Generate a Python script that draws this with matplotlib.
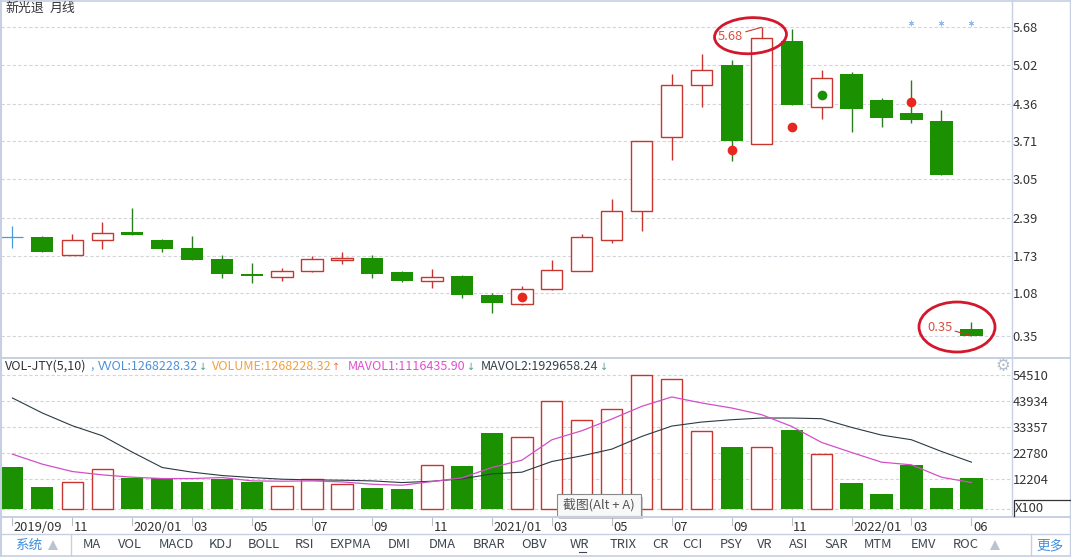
import numpy as np
import matplotlib.pyplot as plt
from matplotlib.patches import Ellipse, Rectangle

plt.rcParams['font.family'] = ['Noto Sans CJK SC', 'DejaVu Sans']

# monthly candles, the first month has no visible body (crosshair sits on it)
opens = [np.nan, 2.05, 1.75, 2.00, 2.14, 2.00, 1.86, 1.67, 1.42, 1.37, 1.46, 1.66, 1.69, 1.45, 1.29, 1.38, 1.05,
         0.90, 1.16, 1.46, 2.01, 2.51, 3.79, 4.68, 5.03, 3.66, 5.44, 4.31, 4.87, 4.42, 4.20, 4.06, 0.46]
closes = [np.nan, 1.80, 2.01, 2.12, 2.09, 1.85, 1.66, 1.42, 1.38, 1.46, 1.67, 1.69, 1.42, 1.30, 1.37, 1.05, 0.92,
          1.15, 1.48, 2.05, 2.50, 3.71, 4.68, 4.95, 3.71, 5.49, 4.34, 4.80, 4.27, 4.12, 4.07, 3.13, 0.35]
highs = [np.nan, 2.07, 2.10, 2.31, 2.55, 2.02, 2.07, 1.74, 1.60, 1.52, 1.72, 1.80, 1.74, 1.47, 1.50, 1.40, 1.08,
         1.20, 1.65, 2.10, 2.71, 3.71, 4.88, 5.21, 5.11, 5.68, 5.65, 4.94, 4.91, 4.45, 4.77, 4.25, 0.58]
lows = [np.nan, 1.80, 1.75, 1.85, 2.09, 1.80, 1.66, 1.35, 1.25, 1.30, 1.44, 1.59, 1.35, 1.27, 1.18, 1.00, 0.74,
        0.88, 1.14, 1.46, 1.95, 2.16, 3.39, 4.31, 3.36, 3.66, 4.34, 4.10, 3.87, 3.96, 4.03, 3.13, 0.35]

volume = [17086, 8950, 10848, 16136, 12746, 12475, 10984, 12340, 10984, 9221, 12340, 10170, 8543, 8136, 17764, 17492,
          30917, 29154, 43800, 36070, 40544, 54375, 52748, 31595, 25222, 25086, 32137, 22238, 10577, 6102, 17900,
          8543, 12611]
mavol1 = [22238, 18170, 15187, 13831, 12882, 12340, 12340, 12746, 11390, 11255, 11390, 10984, 10034, 9628, 11119,
          12611, 16814, 19798, 28069, 31730, 36476, 41629, 45426, 42985, 40951, 38239, 33493, 26984, 22916, 18984,
          17899, 12882, 10712]
mavol2 = [45019, 38917, 33764, 29696, 23052, 16814, 14916, 13560, 12746, 12068, 11797, 11662, 11390, 10712, 11255,
          12204, 14238, 14916, 19255, 21560, 24272, 29425, 33629, 35256, 36205, 36883, 36883, 36612, 33086, 29968,
          28069, 23323, 18984]

price_ticks = [5.68, 5.02, 4.36, 3.71, 3.05, 2.39, 1.73, 1.08, 0.35]
vol_ticks = [54510, 43934, 33357, 22780, 12204]
month_idx = [0, 2, 4, 6, 8, 10, 12, 14, 16, 18, 20, 22, 24, 26, 28, 30, 32]
month_labels = ['2019/09', '11', '2020/01', '03', '05', '07', '09', '11', '2021/01', '03', '05', '07', '09', '11',
                '2022/01', '03', '06']

red_dots_idx = [17, 24, 26, 30]
red_dots_price = [1.01, 3.56, 3.96, 4.39]
green_dot_idx = [27]
green_dot_price = [4.51]
star_idx = [30, 31, 32]
star_price = [5.75, 5.75, 5.75]

tools = ['MA', 'VOL', 'MACD', 'KDJ', 'BOLL', 'RSI', 'EXPMA', 'DMI', 'DMA', 'BRAR', 'OBV', 'WR', 'TRIX', 'CR', 'CCI',
         'PSY', 'VR', 'ASI', 'SAR', 'MTM', 'EMV', 'ROC']
tools_x = [92, 130, 176, 221, 264, 304, 350, 399, 442, 489, 534, 579, 623, 660, 692, 731, 765, 799, 836, 878, 923, 966]

RED = '#c8352e'
GREEN = '#1b9000'
WICK_GREEN = '#2a7d1c'
GRID = '#d2d6da'
FRAME = '#c6d0e2'
TXT = '#333333'
FS = 9.3

W, H = 1071, 557
fig = plt.figure(figsize=(W / 100, H / 100), dpi=100, facecolor='white')


def px_axes(x0, y0, x1, y1):
    return fig.add_axes([x0 / W, 1 - y1 / H, (x1 - x0) / W, (y1 - y0) / H])


x = np.arange(len(volume))
opens, closes, highs, lows = map(np.array, (opens, closes, highs, lows))
up = closes >= opens
xlim = (-0.38, 33.32)
width = 0.74

# price panel
ax = px_axes(1, 1, 1011, 357.5)
ax.set_xlim(xlim)
ax.set_ylim(-0.03, 6.135)
for p in price_ticks:
    ax.axhline(p, color=GRID, ls=(0, (3, 2)), lw=0.8, zorder=0)
for i in x[1:]:
    c = RED if up[i] else WICK_GREEN
    ax.vlines(i, lows[i], highs[i], color=c, lw=1.0, zorder=2)
    if up[i]:
        ax.bar(i, closes[i] - opens[i], width - 0.03, bottom=opens[i], facecolor='white', edgecolor=RED, lw=1.0, zorder=3)
    else:
        ax.bar(i, opens[i] - closes[i], width, bottom=closes[i], color=GREEN, lw=0, zorder=3)
ax.plot(red_dots_idx, red_dots_price, 'o', color='#e8281e', ms=7, mew=0, zorder=4)
ax.plot(green_dot_idx, green_dot_price, 'o', color=GREEN, ms=7, mew=0, zorder=4)
ax.plot(star_idx, star_price, ls='', marker=(6, 2, 0), color='#8fbcec', ms=4, mew=0.6, zorder=4)
ax.plot([0], [2.05], marker='+', color='#4a9ae0', ms=16, mew=0.9, zorder=4)
ax.annotate('5.68', xy=(25, 5.68), xytext=(-31.6, -6.3), textcoords='offset points', color='#d9503f', fontsize=FS,
            ha='left', va='center', zorder=5,
            arrowprops=dict(arrowstyle='-', color=RED, lw=0.8, shrinkA=0, shrinkB=0))
ax.annotate('0.35', xy=(32, 0.35), xytext=(-32, 6.1), textcoords='offset points', color='#d9503f', fontsize=FS,
            ha='left', va='center', zorder=5,
            arrowprops=dict(arrowstyle='-', color=RED, lw=0.8, shrinkA=0, shrinkB=0))
ax.set_xticks([])
ax.yaxis.tick_right()
ax.set_yticks(price_ticks, [f'{p:.2f}' for p in price_ticks], fontsize=FS, color=TXT)
ax.tick_params(axis='y', length=0, pad=1)

# volume panel
ax2 = px_axes(1, 357.5, 1011, 516)
ax2.set_xlim(xlim)
ax2.set_ylim(-2848, 61430)
for v in vol_ticks + [0]:
    ax2.axhline(v, color=GRID, ls=(0, (3, 2)), lw=0.8, zorder=0)
for i in x:
    if up[i]:
        ax2.bar(i, volume[i], width - 0.03, facecolor='white', edgecolor=RED, lw=1.0, zorder=2)
    else:
        ax2.bar(i, volume[i], width, color=GREEN, lw=0, zorder=2)
ax2.plot(x, mavol2, color='#2b3a42', lw=0.8, zorder=3)
ax2.plot(x, mavol1, color='#d24fc8', lw=0.9, zorder=3)
ax2.yaxis.tick_right()
ax2.set_yticks(vol_ticks, [str(v) for v in vol_ticks], fontsize=FS, color=TXT)
ax2.tick_params(axis='y', length=0, pad=1)
ax2.set_xticks([])
for a in (ax, ax2):
    for s in a.spines.values():
        s.set_visible(False)
    a.patch.set_alpha(0)

# date strip
ax3 = px_axes(1, 516, 1011, 534)
ax3.set_xlim(xlim)
ax3.set_ylim(1, 0)
ax3.axis('off')
for i, lab in zip(month_idx, month_labels):
    ax3.plot([i, i], [0.1, 0.5], color='#b8bec6', lw=0.8, clip_on=False)
    ax3.text(i + 0.05, 0.65, lab, fontsize=FS, color=TXT, ha='left', va='center', clip_on=False)

# window chrome, in pixels
ov = fig.add_axes([0, 0, 1, 1], zorder=10)
ov.set_xlim(0, W)
ov.set_ylim(H, 0)
ov.axis('off')
ov.patch.set_alpha(0)
ov.plot([0.5, 0.5], [0, 556], color=FRAME, lw=1.5)
ov.plot([1070, 1070], [0, 556], color=FRAME, lw=1)
ov.plot([1011.5, 1011.5], [0, 516], color=FRAME, lw=1)
ov.plot([0, W], [0.5, 0.5], color=FRAME, lw=1.2)
ov.plot([0, W], [357.5, 357.5], color=FRAME, lw=1.4)
ov.plot([0, W], [516.5, 516.5], color=FRAME, lw=1.4)
ov.plot([0, W], [534, 534], color=FRAME, lw=1)
ov.plot([0, W], [555.5, 555.5], color=FRAME, lw=1.2)
ov.plot([70.5, 70.5], [534, 556], color=FRAME, lw=1)
ov.plot([1031, 1031], [534, 556], color=FRAME, lw=1)

ov.text(5, 8, '新光退', fontsize=FS, color=TXT, va='center')
ov.text(50, 8, '月线', fontsize=FS, color=TXT, va='center')

hdr = [(5, 'VOL-JTY(5,10)', TXT), (90, ',', '#5a9be0'), (97.5, 'VVOL:1268228.32', '#4a90d9'),
       (212, 'VOLUME:1268228.32', '#f0a040'), (348, 'MAVOL1:1116435.90', '#e050d0'),
       (481, 'MAVOL2:1929658.24', '#33414a')]
for hx, s, c in hdr:
    ov.text(hx, 366.5, s, fontsize=9.0, color=c, va='center')
arrows = [(203, '↓', '#4f9f8f'), (336, '↑', '#ee6a4a'), (471, '↓', '#4f9f8f'), (604, '↓', '#4f9f8f')]
for hx, s, c in arrows:
    ov.text(hx, 366.5, s, family='DejaVu Sans', fontsize=7, color=c, ha='center', va='center')

ov.text(1002.7, 366, '⚙', family='DejaVu Sans', fontsize=12, color='#b4bfcc', ha='center', va='center')

ov.add_patch(Ellipse((750.5, 35.7), 72, 36, angle=-3, fill=False, ec='#d3172c', lw=2))
ov.add_patch(Ellipse((957, 327), 76, 50, fill=False, ec='#d3172c', lw=2))

# screenshot tooltip
ov.add_patch(Rectangle((559, 497), 84, 22, fc='#9a9a9a', ec='none', alpha=0.55))
ov.add_patch(Rectangle((556.5, 494), 84, 22, fc='#f8f8f8', ec='#8a8a8a', lw=0.8))
ov.text(598.5, 505, '截图(Alt + A)', fontsize=FS, color='#555555', ha='center', va='center')

# X100 box
ov.plot([1013.5, 1013.5, W], [516, 499.5, 499.5], color='#333333', lw=0.9)
ov.text(1015, 509, 'X100', fontsize=FS, color=TXT, va='center')

# toolbar
ov.text(29, 545, '系统', fontsize=9.8, color='#3f8fe0', ha='center', va='center')
ov.plot([52.5], [545], marker='^', color='#b9c4d0', ms=7, mew=0)
for tx, name in zip(tools_x, tools):
    ov.text(tx, 545, name, fontsize=FS, color='#3c4650', ha='center', va='center')
ov.plot([579, 586], [552, 552], color='#3c4650', lw=0.8)
ov.plot([995], [545], marker='^', color='#b9c4d0', ms=7, mew=0)
ov.text(1050, 545, '更多', fontsize=9.8, color='#3f8fe0', ha='center', va='center')

fig.savefig('out.png', dpi=100)
